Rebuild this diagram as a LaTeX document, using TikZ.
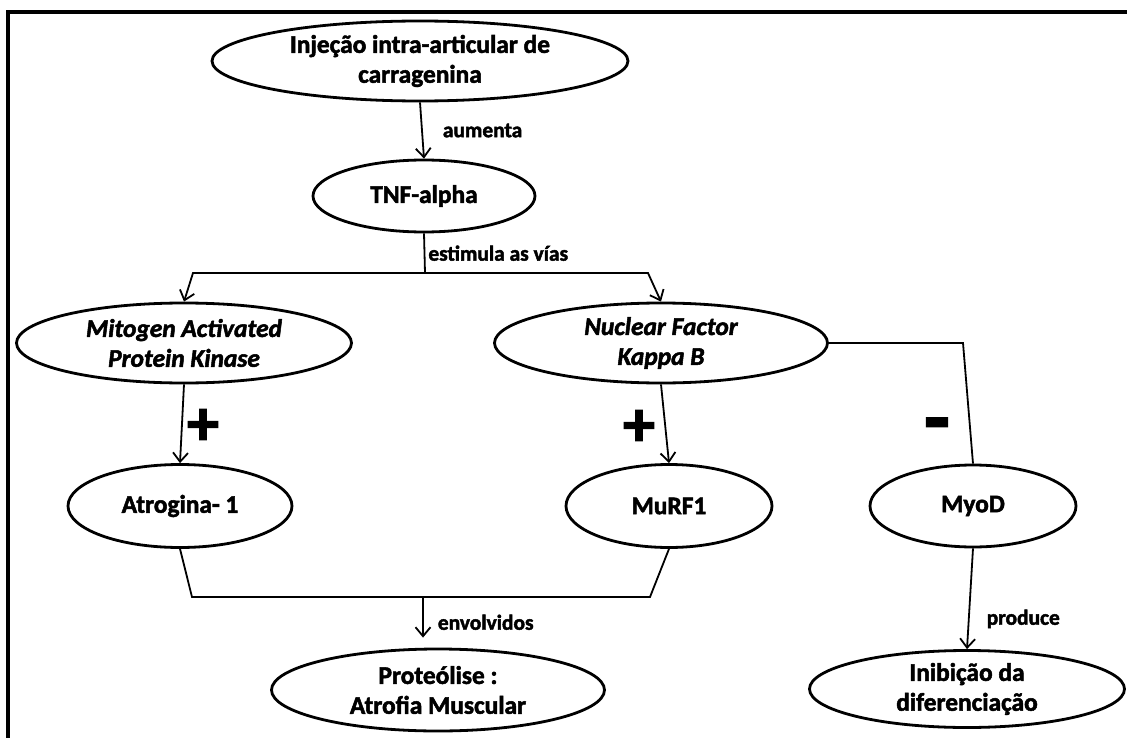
\documentclass[tikz,border=0pt]{standalone}
\usepackage{fontspec}
\setmainfont{Carlito}[BoldFeatures={FakeBold=2},BoldItalicFeatures={FakeBold=2}]
\usetikzlibrary{shapes.geometric}
\usetikzlibrary{arrows.meta}

\begin{document}
\begin{tikzpicture}[x=1bp,y=-1bp,
  bolha/.style={draw,ellipse,line width=2.8bp,inner sep=0pt,align=center,
    font=\fontsize{25.5}{30}\selectfont\bfseries},
  rot/.style={font=\fontsize{21.5}{23}\selectfont\bfseries,inner sep=0pt},
  sinal/.style={font=\fontsize{64}{64}\selectfont\bfseries,inner sep=0pt},
  seta/.style={line width=1.8bp,-{Straight Barb[length=9bp,width=15bp]}},
  liga/.style={line width=1.8bp}]
\useasboundingbox (0,0) rectangle (1127,738);
\draw[line width=4.5bp] (8,738) -- (8,12) -- (1127,12);

\node[bolha,minimum width=416bp,minimum height=80bp] (inj) at (420,61) {Injeção intra-articular de\\carragenina};
\node[bolha,minimum width=222bp,minimum height=72bp] (tnf) at (424,196) {TNF-alpha};
\node[bolha,minimum width=335bp,minimum height=80bp] (mapk) at (184,343) {\itshape Mitogen Activated\\\itshape Protein Kinase};
\node[bolha,minimum width=333bp,minimum height=80bp] (nfkb) at (661,343) {\itshape Nuclear Factor\\\itshape Kappa B};
\node[bolha,minimum width=224bp,minimum height=83bp] (atro) at (180,506) {Atrogina- 1};
\node[bolha,minimum width=206bp,minimum height=83bp] (murf) at (669,506) {MuRF1};
\node[bolha,minimum width=206bp,minimum height=82bp] (myod) at (973,506) {MyoD};
\node[bolha,minimum width=333bp,minimum height=82bp] (prot) at (438,690) {Proteólise :\\Atrofia Muscular};
\node[bolha,minimum width=315bp,minimum height=77bp] (inib) at (967,689) {Inibição da\\diferenciação};

\coordinate (split) at (425,273);
\coordinate (jl) at (193,273);
\coordinate (jr) at (648,273);
\coordinate (knee) at (963,343);
\coordinate (jbl) at (192,597);
\coordinate (jbr) at (650,597);
\coordinate (jb) at (423,597);

\draw[seta] (inj.south) -- (tnf.north) node[rot,midway,anchor=west,xshift=20bp] (laum) {aumenta};
\draw[liga] (tnf.south) -- (split) node[rot,midway,anchor=west,xshift=3bp] (lest) {estimula as vías};
\draw[seta] (split) -- (jl) -- (mapk.north);
\draw[seta] (split) -- (jr) -- (nfkb.north);

\draw[seta] (mapk.south) -- (atro.north);
\draw[seta] (nfkb.south) -- (murf.north);
\draw[liga] (nfkb.east) -- (knee) -- (myod.north);
\node[sinal] (maisA) at (203,427) {+};
\node[sinal] (maisB) at (639,428) {+};
\node[sinal,font=\fontsize{84}{84}\selectfont\bfseries] (menos) at (937,432) {-};

\draw[liga] (atro.south) -- (jbl) -- (jbr) -- (murf.south);
\draw[seta,shorten >=10bp] (jb) -- (jb |- prot.north) node[rot,midway,anchor=west,xshift=14bp] (lenv) {envolvidos};
\draw[seta] (myod.south) -- (inib.north) node[rot,pos=0.7,anchor=west,xshift=17bp] (lpro) {produce};
\end{tikzpicture}
\end{document}
